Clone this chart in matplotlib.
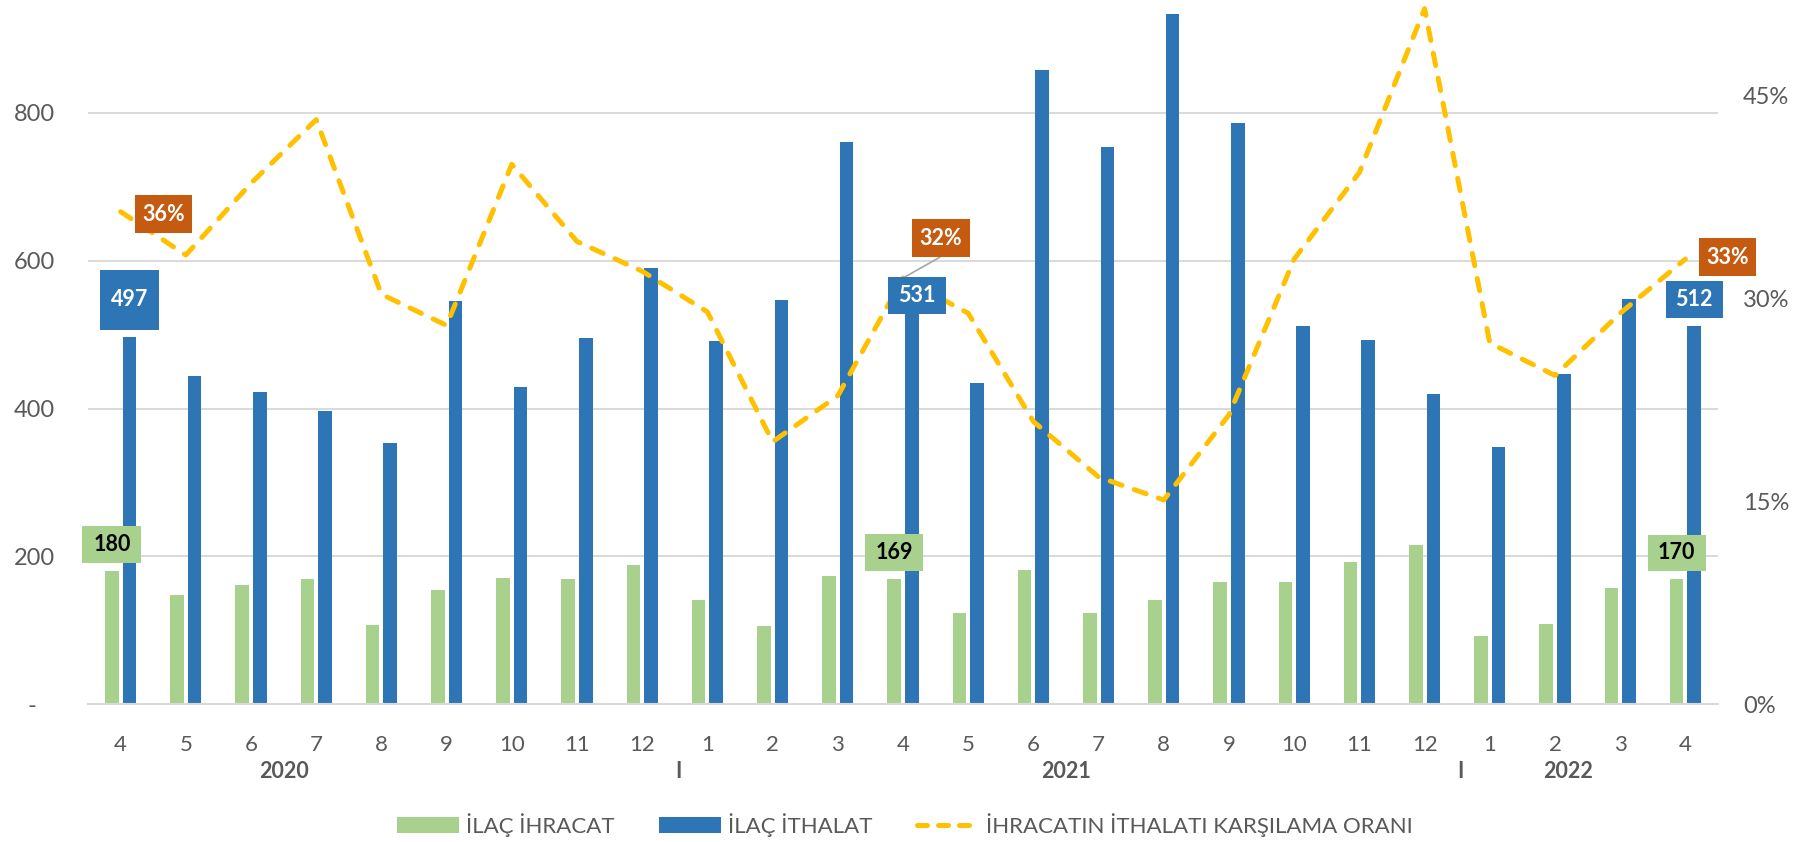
import numpy as np
import matplotlib
matplotlib.use("Agg")
import matplotlib.pyplot as plt
from matplotlib.patches import Rectangle, Patch
from matplotlib.lines import Line2D
from matplotlib.text import Text
from matplotlib.offsetbox import DrawingArea, AnnotationBbox

plt.rcParams['font.family'] = ['Lato', 'DejaVu Sans']

# ---------------- data ----------------
months = ['4', '5', '6', '7', '8', '9', '10', '11', '12',
          '1', '2', '3', '4', '5', '6', '7', '8', '9', '10', '11', '12',
          '1', '2', '3', '4']
year_labels = ['2020', 'I', '2021', 'I', '2022']
year_pos = [2.5, 8.55, 14.5, 20.55, 22.2]

exports = [180, 148, 162, 169, 107, 154, 171, 169, 188, 141, 106, 174, 169,
           124, 182, 124, 141, 166, 166, 193, 216, 93, 109, 157, 170]
imports = [497, 444, 422, 396, 353, 545, 429, 495, 590, 491, 547, 760, 531,
           435, 857, 753, 933, 786, 511, 492, 419, 348, 447, 548, 512]
ratio = [0.364, 0.332, 0.385, 0.432, 0.303, 0.280, 0.399, 0.342, 0.320, 0.290,
         0.194, 0.228, 0.315, 0.289, 0.209, 0.168, 0.151, 0.214, 0.329, 0.393,
         0.514, 0.267, 0.243, 0.289, 0.329]

series_names = ['İLAÇ İHRACAT', 'İLAÇ İTHALAT', 'İHRACATIN İTHALATI KARŞILAMA ORANI']
left_ticks = [0, 200, 400, 600, 800]
left_ticklabels = ['-   ', '200', '400', '600', '800']
right_ticks = [0, 0.15, 0.30, 0.45]
right_ticklabels = ['0%', '15%', '30%', '45%']

# labelled points: (index, text)
export_labels = [(0, '180'), (12, '169'), (24, '170')]
import_labels = [(0, '497'), (12, '531'), (24, '512')]
ratio_labels = [(0, '36%'), (12, '32%'), (24, '33%')]

# ---------------- style ----------------
GREEN = '#A9D18E'
BLUE = '#2E75B6'
GOLD = '#FFC000'
ORANGE = '#C55A11'
GRID = '#D9D9D9'
TXT = '#595959'

W, H = 1802, 842
fig = plt.figure(figsize=(W / 100, H / 100), dpi=100)
ax_l, ax_r, ax_b, ax_t = 88, 1718, 704.4, 5
ax = fig.add_axes([ax_l / W, (H - ax_b) / H, (ax_r - ax_l) / W, (ax_b - ax_t) / H])

x = np.arange(len(months))
bw = 0.21
off = 0.135
ax.bar(x - off, exports, width=bw, color=GREEN, zorder=2)
ax.bar(x + off, imports, width=bw, color=BLUE, zorder=2)
ax.set_xlim(-0.5, len(months) - 0.5)
ax.set_ylim(0, 945.5)

for s in ['top', 'right', 'left']:
    ax.spines[s].set_visible(False)
ax.spines['bottom'].set_color(GRID)
ax.spines['bottom'].set_linewidth(1.5)
ax.set_yticks(left_ticks)
ax.set_yticklabels(left_ticklabels)
ax.yaxis.grid(True, color=GRID, linewidth=1.4, zorder=0)
ax.set_axisbelow(True)
ax.tick_params(axis='y', length=0, pad=23.5, labelsize=17, labelcolor=TXT)
ax.set_xticks(x)
ax.set_xticklabels(months, va='center')
ax.tick_params(axis='x', length=0, pad=29.5, labelsize=16, labelcolor=TXT)

for yp, yl in zip(year_pos, year_labels):
    ax.text(yp, -(772 - ax_b) / (ax_b - ax_t), yl, transform=ax.get_xaxis_transform(),
            ha='center', va='center', fontsize=15.5, fontweight='bold', color=TXT)

ax2 = ax.twinx()
ax2.plot(x, ratio, color=GOLD, lw=3.6, dashes=(2.5, 2.6), dash_capstyle='round',
         dash_joinstyle='round', zorder=3)
ax2.set_ylim(0, 0.5167)
for s in ax2.spines.values():
    s.set_visible(False)
ax2.set_yticks(right_ticks)
ax2.set_yticklabels(right_ticklabels)
ax2.tick_params(axis='y', length=0, pad=18, labelsize=17, labelcolor=TXT)

K = 0.72  # px -> pt at dpi 100


def box_label(xy, xycoords, text, fc, tc, dx, dy, w, h):
    da = DrawingArea(w * K, h * K, 0, 0)
    da.add_artist(Rectangle((0, 0), w * K, h * K, fc=fc, ec='none'))
    da.add_artist(Text(w * K / 2, h * K / 2, text, ha='center', va='center',
                       color=tc, fontsize=15.5, fontweight='bold'))
    ab = AnnotationBbox(da, xy, xycoords=xycoords, xybox=(dx * K, dy * K),
                        boxcoords='offset points', frameon=False, pad=0,
                        box_alignment=(0.5, 0.5), annotation_clip=False, zorder=6)
    ax2.add_artist(ab)


# bar labels (offsets in px, up positive)
exp_geo = {0: (0, 26.6, 58.7, 37.3), 12: (0, 26.7, 58, 37), 24: (0, 25.7, 58, 36.5)}
imp_geo = {0: (0, 37.1, 59.4, 60.2), 12: (5, 16.1, 58, 37.6), 24: (0, 26, 57, 36.6)}
rat_geo = {0: (43, -2.6, 57.3, 38), 12: (37.7, 39.7, 58, 38), 24: (42.3, 2, 57.3, 37.7)}

# leader line for the middle ratio label
i_mid = ratio_labels[1][0]
ax2.annotate('', xy=(x[i_mid], ratio[i_mid]), xytext=(36.7 * K, 20.7 * K),
             textcoords='offset points',
             arrowprops=dict(arrowstyle='-', color='#A6A6A6', lw=1.2,
                             shrinkA=0, shrinkB=0), zorder=5)

for i, t in export_labels:
    dx, dy, w, h = exp_geo[i]
    box_label((x[i] - off, exports[i]), ax.transData, t, GREEN, 'black', dx, dy, w, h)
for i, t in import_labels:
    dx, dy, w, h = imp_geo[i]
    box_label((x[i] + off, imports[i]), ax.transData, t, BLUE, 'white', dx, dy, w, h)
for i, t in ratio_labels:
    dx, dy, w, h = rat_geo[i]
    box_label((x[i], ratio[i]), ax2.transData, t, ORANGE, 'white', dx, dy, w, h)

handles = [Patch(facecolor=GREEN, edgecolor='none'),
           Patch(facecolor=BLUE, edgecolor='none'),
           Line2D([0], [0], color=GOLD, lw=3.6, dashes=(2.0, 2.2), dash_capstyle='round')]
leg = fig.legend(handles, series_names, loc='center', bbox_to_anchor=(0.502, (H - 825) / H),
                 ncol=3, frameon=False, handlelength=2.8, handletextpad=0.3,
                 columnspacing=2.0, fontsize=16)
for t in leg.get_texts():
    t.set_color(TXT)

fig.savefig('out.png', dpi=100)
